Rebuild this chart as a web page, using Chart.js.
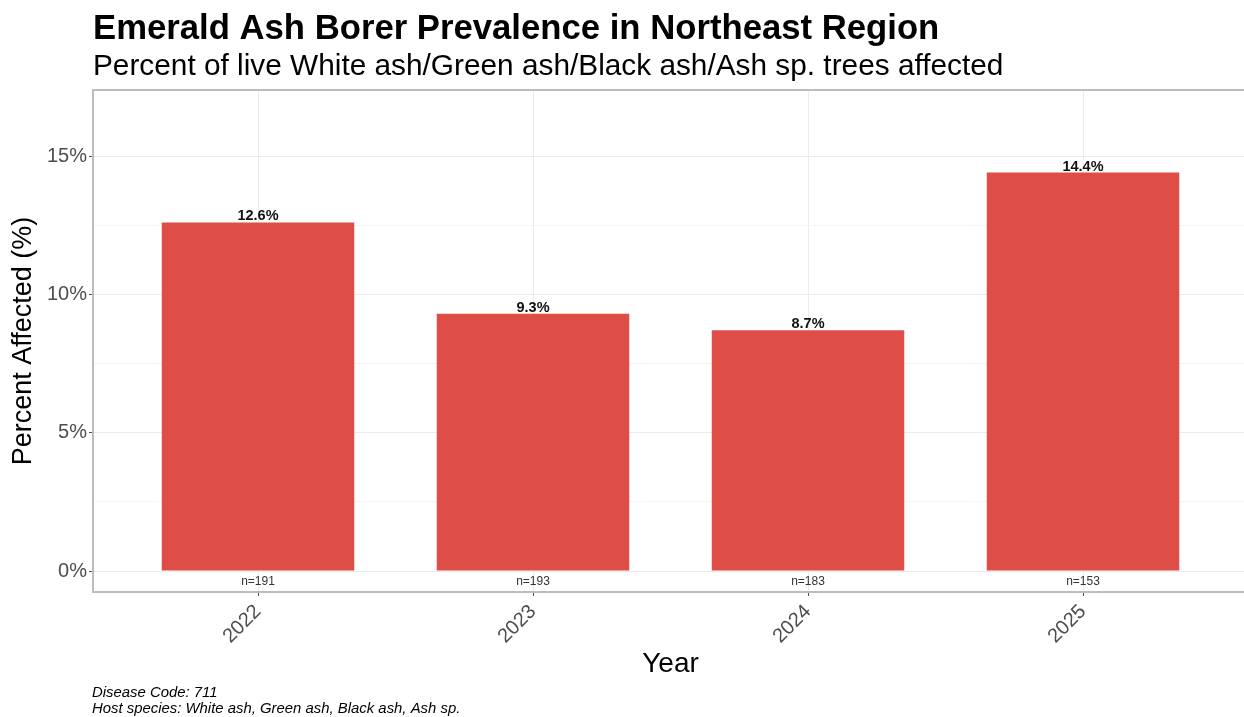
<!DOCTYPE html>
<html>
<head>
<meta charset="utf-8">
<title>Emerald Ash Borer Prevalence in Northeast Region</title>
<script src="https://cdn.jsdelivr.net/npm/chart.js@4.4.0/dist/chart.umd.min.js"></script>
<style>
  html, body { margin: 0; padding: 0; background: #fff; overflow: hidden; }
  #wrap { width: 1244px; height: 717px; overflow: hidden; }
  canvas { display: block; }
</style>
</head>
<body>
<div id="wrap"><canvas id="eabChart" width="1252" height="717"></canvas></div>
<script>
// survey data
const years = ['2022', '2023', '2024', '2025'];
const percentAffected = [12.6, 9.3, 8.7, 14.4];
const sampleSizes = [191, 193, 183, 153];

// y axis: major ticks get a label, the in-between ones are minor grid lines
const yTicks = [0, 2.5, 5, 7.5, 10, 12.5, 15];
const yMajorTicks = [0, 5, 10, 15];

const titleText = 'Emerald Ash Borer Prevalence in Northeast Region';
const subtitleText = 'Percent of live White ash/Green ash/Black ash/Ash sp. trees affected';
const captionLines = ['Disease Code: 711', 'Host species: White ash, Green ash, Black ash, Ash sp.'];

const FONT = "'Liberation Sans', Arial, Helvetica, sans-serif";
const barColor = 'rgb(222, 78, 70)';
const isMajor = v => yMajorTicks.includes(v);

Chart.defaults.font.family = FONT;

// title block, caption, bar labels and the panel frame
const plotDecor = {
  id: 'plotDecor',
  afterDatasetsDraw(chart) {
    const { ctx, chartArea, scales: { y } } = chart;
    const bars = chart.getDatasetMeta(0).data;
    ctx.save();

    ctx.textAlign = 'left';
    ctx.textBaseline = 'alphabetic';
    ctx.fillStyle = '#000';
    ctx.font = `bold 34.7px ${FONT}`;
    ctx.fillText(titleText, 93, 39);
    ctx.font = `29.8px ${FONT}`;
    ctx.fillText(subtitleText, 93, 75);

    ctx.font = `italic 14.9px ${FONT}`;
    ctx.fillText(captionLines[0], 92, 697);
    ctx.fillText(captionLines[1], 92, 713);

    ctx.textAlign = 'center';
    const zeroY = y.getPixelForValue(0);
    bars.forEach((bar, i) => {
      ctx.fillStyle = '#111';
      ctx.font = `bold 14.5px ${FONT}`;
      ctx.fillText(percentAffected[i].toFixed(1) + '%', bar.x, bar.y - 2);
      ctx.fillStyle = '#333';
      ctx.font = `12px ${FONT}`;
      ctx.fillText('n=' + sampleSizes[i], bar.x, zeroY + 14);
    });

    ctx.strokeStyle = '#bdbdbd';
    ctx.lineWidth = 2;
    ctx.strokeRect(chartArea.left, chartArea.top,
      chartArea.right - chartArea.left, chartArea.bottom - chartArea.top);
    ctx.restore();
  }
};

new Chart(document.getElementById('eabChart'), {
  type: 'bar',
  data: {
    datasets: [{
      data: percentAffected.map((v, i) => ({ x: i, y: v })),
      backgroundColor: barColor,
      borderWidth: 0,
      barPercentage: 0.7,
      categoryPercentage: 1
    }]
  },
  plugins: [plotDecor],
  options: {
    responsive: false,
    animation: false,
    layout: { padding: { top: 90, right: 4, bottom: 0, left: 0 } },
    plugins: {
      legend: { display: false },
      tooltip: { enabled: false }
    },
    scales: {
      x: {
        type: 'linear',
        min: -0.6,
        max: 3.6,
        offset: false,
        afterBuildTicks: s => { s.ticks = years.map((_, i) => ({ value: i })); },
        afterFit: s => { s.height = 125; },
        ticks: {
          autoSkip: false,
          maxRotation: 45,
          minRotation: 45,
          padding: 4,
          color: '#4d4d4d',
          font: { size: 20 },
          callback: v => years[v]
        },
        grid: {
          offset: false,
          color: '#ebebeb',
          lineWidth: 1,
          tickLength: 4,
          tickColor: '#4d4d4d'
        },
        border: { display: false },
        title: {
          display: true,
          text: 'Year',
          color: '#000',
          font: { size: 28 },
          padding: { top: 0, bottom: 36 }
        }
      },
      y: {
        min: -0.759,
        max: 17.386,
        afterBuildTicks: s => { s.ticks = yTicks.map(v => ({ value: v })); },
        afterFit: s => { s.width = 93; },
        ticks: {
          padding: 2,
          color: '#4d4d4d',
          font: { size: 20 },
          callback: v => isMajor(v) ? v + '%' : ''
        },
        grid: {
          color: c => isMajor(c.tick.value) ? '#ebebeb' : '#f4f4f4',
          lineWidth: 1,
          tickLength: 4,
          tickColor: c => isMajor(c.tick.value) ? '#4d4d4d' : 'rgba(0,0,0,0)'
        },
        border: { display: false },
        title: {
          display: true,
          text: 'Percent Affected (%)',
          color: '#000',
          font: { size: 27 },
          padding: { top: 7, bottom: 0 }
        }
      }
    }
  }
});
</script>
</body>
</html>
